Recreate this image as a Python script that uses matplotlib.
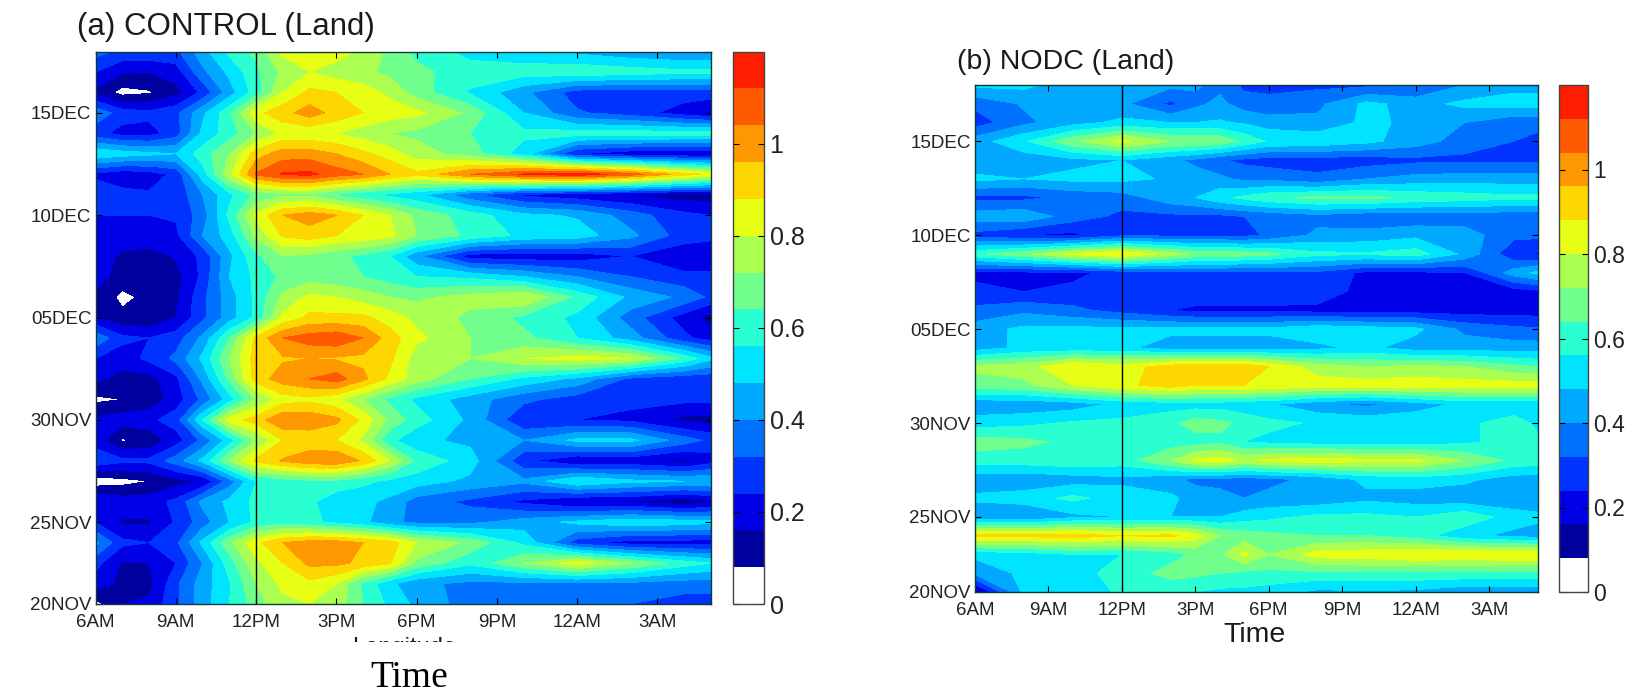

# diurnal contour panels, land only
import numpy as np
import matplotlib
matplotlib.use('Agg')
import matplotlib.pyplot as plt
from matplotlib.colors import ListedColormap, BoundaryNorm
from matplotlib.patches import Rectangle

plt.rcParams['font.family'] = ['Liberation Sans', 'DejaVu Sans']

days = list(range(1, 29))
hours_a = [6, 7, 8, 9, 10, 11, 12, 13, 14, 15, 16, 17, 18, 20, 22, 24, 26, 28, 29]
hours_b = [6, 8, 10, 12, 14, 15, 16, 17, 18, 20, 22, 24, 26, 28, 29]

# rows run from day 1 (bottom) to day 28 (top)
control = [
    [.05, .16, .18, .30, .44, .56, .68, .78, .80, .76, .64, .54, .46, .36, .34, .34, .32, .28, .28],
    [.20, .14, .13, .30, .44, .55, .72, .82, .86, .80, .62, .50, .42, .38, .38, .38, .38, .36, .36],
    [.27, .15, .16, .24, .40, .60, .78, .88, .98, .98, .94, .89, .70, .58, .72, .84, .72, .60, .56],
    [.42, .26, .24, .30, .50, .70, .86, .96, 1.0, 1.0, .96, .92, .80, .70, .54, .28, .20, .20, .20],
    [.24, .15, .15, .25, .36, .48, .58, .60, .58, .54, .50, .42, .38, .38, .44, .50, .54, .52, .50],
    [.24, .20, .20, .26, .42, .50, .58, .60, .58, .50, .50, .46, .36, .30, .22, .15, .15, .10, .14],
    [.03, .05, .08, .13, .17, .36, .56, .60, .62, .62, .58, .54, .52, .46, .42, .56, .50, .48, .48],
    [.30, .26, .26, .36, .50, .72, .90, .97, 1.02, 1.03, .95, .80, .62, .52, .26, .16, .18, .14, .20],
    [.20, .07, .10, .20, .34, .52, .72, .88, .90, .88, .78, .58, .50, .46, .40, .50, .50, .36, .30],
    [.18, .20, .22, .28, .56, .84, .92, 1.03, 1.02, .98, .86, .70, .60, .46, .25, .24, .22, .14, .13],
    [.06, .08, .10, .20, .34, .52, .72, .84, .86, .82, .72, .62, .54, .44, .34, .28, .26, .26, .26],
    [.18, .13, .13, .22, .42, .66, .92, 1.0, 1.04, 1.08, .98, .86, .76, .64, .54, .46, .30, .26, .26],
    [.24, .20, .26, .34, .50, .72, .92, .95, .96, .95, .94, .90, .76, .72, .80, .83, .80, .62, .50],
    [.38, .26, .24, .28, .42, .64, .90, 1.04, 1.08, 1.10, 1.04, .92, .82, .72, .66, .56, .44, .26, .20],
    [.16, .10, .09, .16, .30, .44, .58, .82, .90, .90, .90, .84, .78, .70, .62, .54, .36, .20, .13],
    [.14, .06, .10, .14, .30, .44, .58, .74, .82, .80, .76, .72, .70, .75, .80, .62, .46, .38, .30],
    [.20, .12, .10, .13, .26, .48, .58, .66, .68, .66, .64, .60, .56, .54, .48, .40, .32, .26, .26],
    [.22, .14, .12, .17, .26, .46, .62, .72, .70, .66, .62, .56, .42, .20, .19, .19, .24, .18, .18],
    [.24, .22, .22, .22, .40, .52, .74, .89, .92, .88, .86, .82, .72, .62, .54, .52, .42, .28, .26],
    [.24, .24, .24, .25, .36, .58, .82, .96, 1.0, .96, .88, .80, .70, .60, .50, .47, .36, .26, .24],
    [.30, .27, .25, .26, .40, .54, .66, .70, .70, .63, .58, .54, .50, .34, .22, .18, .15, .12, .12],
    [.22, .18, .20, .26, .52, .78, 1.05, 1.13, 1.14, 1.08, 1.04, .96, .90, 1.04, 1.13, 1.17, 1.08, .92, .86],
    [.55, .52, .50, .48, .60, .72, .92, 1.0, 1.0, .96, .90, .84, .76, .68, .52, .24, .18, .16, .16],
    [.27, .21, .21, .28, .50, .60, .72, .82, .82, .80, .76, .72, .70, .64, .58, .60, .60, .60, .60],
    [.38, .28, .26, .30, .46, .62, .86, .93, 1.0, .93, .88, .84, .82, .70, .48, .33, .28, .20, .16],
    [.14, .05, .07, .13, .26, .44, .60, .80, .90, .88, .84, .78, .68, .55, .42, .28, .28, .28, .28],
    [.24, .17, .16, .20, .38, .50, .62, .74, .80, .76, .74, .70, .66, .60, .60, .62, .60, .58, .58],
    [.35, .30, .30, .30, .45, .58, .66, .82, .84, .84, .78, .70, .62, .53, .50, .46, .42, .40, .40],
]

nodc = [
    [.12, .50, .52, .57, .56, .56, .54, .54, .52, .46, .47, .46, .42, .42, .42],
    [.42, .50, .54, .58, .68, .66, .64, .62, .62, .62, .62, .62, .62, .62, .62],
    [.50, .52, .56, .56, .60, .66, .70, .82, .72, .84, .85, .88, .87, .88, .88],
    [.90, .90, .92, .88, .90, .84, .72, .68, .66, .64, .64, .60, .50, .46, .44],
    [.40, .40, .46, .48, .48, .48, .48, .52, .54, .58, .58, .56, .62, .52, .50],
    [.50, .52, .58, .52, .50, .44, .42, .40, .42, .42, .46, .44, .42, .42, .42],
    [.42, .42, .44, .46, .42, .38, .38, .36, .38, .42, .50, .52, .50, .44, .44],
    [.60, .60, .62, .60, .72, .82, .84, .78, .82, .84, .82, .82, .72, .62, .60],
    [.68, .66, .62, .60, .60, .60, .62, .56, .54, .52, .52, .52, .54, .60, .58],
    [.52, .54, .57, .58, .62, .68, .66, .62, .58, .55, .54, .54, .54, .60, .54],
    [.42, .42, .44, .50, .52, .52, .52, .50, .49, .42, .38, .44, .50, .50, .50],
    [.68, .70, .80, .86, .92, .88, .88, .88, .86, .84, .84, .85, .84, .84, .84],
    [.74, .76, .88, .84, .92, .94, .94, .94, .88, .76, .72, .74, .72, .66, .64],
    [.44, .50, .50, .50, .44, .44, .44, .44, .44, .46, .50, .44, .44, .44, .44],
    [.44, .50, .50, .50, .50, .50, .50, .50, .50, .54, .52, .50, .38, .34, .33],
    [.34, .38, .34, .29, .24, .22, .22, .22, .22, .21, .20, .20, .20, .20, .20],
    [.26, .24, .26, .27, .30, .30, .30, .30, .30, .30, .20, .20, .20, .20, .22],
    [.22, .22, .22, .27, .30, .30, .30, .30, .30, .30, .22, .22, .24, .44, .50],
    [.62, .70, .82, .88, .76, .70, .70, .68, .66, .58, .57, .60, .46, .26, .23],
    [.29, .24, .22, .30, .30, .30, .30, .30, .33, .42, .43, .46, .44, .34, .34],
    [.44, .46, .36, .30, .30, .30, .30, .32, .34, .37, .34, .34, .35, .34, .34],
    [.30, .30, .34, .36, .45, .48, .54, .58, .62, .66, .66, .62, .60, .58, .58],
    [.50, .48, .50, .50, .47, .44, .42, .38, .38, .34, .40, .43, .44, .44, .44],
    [.42, .43, .46, .48, .42, .38, .33, .30, .28, .28, .28, .30, .30, .30, .30],
    [.44, .55, .70, .82, .72, .72, .70, .62, .55, .54, .50, .44, .36, .32, .30],
    [.28, .38, .45, .50, .48, .48, .49, .47, .44, .42, .50, .46, .40, .34, .34],
    [.34, .41, .44, .42, .30, .38, .42, .36, .34, .38, .50, .45, .50, .52, .52],
    [.50, .50, .44, .42, .42, .41, .38, .30, .30, .30, .30, .31, .40, .45, .45],
]

levels = [0, .08, .16, .24, .32, .40, .48, .56, .64, .72, .80, .88, .96, 1.04, 1.12, 1.2]
band_colors = ['#ffffff', '#00009f', '#0000e6', '#0033ff', '#0070ff', '#00a8ff', '#00e4ff',
               '#2affd2', '#70ff8c', '#aaff50', '#e6ff14', '#ffd700', '#ff9800', '#ff5a00', '#ff1e00']
time_ticks = [6, 9, 12, 15, 18, 21, 24, 27]
time_labels = ['6AM', '9AM', '12PM', '3PM', '6PM', '9PM', '12AM', '3AM']
date_ticks = [1, 5, 10, 15, 20, 25]
date_labels = ['20NOV', '25NOV', '30NOV', '05DEC', '10DEC', '15DEC']
cbar_ticks = [0, .2, .4, .6, .8, 1]
cbar_labels = ['0', '0.2', '0.4', '0.6', '0.8', '1']

W, H = 1628, 693
cmap = ListedColormap(band_colors)


def box(x0, y0, x1, y1):
    # pixel box to figure fraction
    return [x0 / W, 1 - y1 / H, (x1 - x0) / W, (y1 - y0) / H]


def panel(fig, rect, cbar_rect, hours, z, title, title_xy, title_size, cbar_size):
    ax = fig.add_axes(box(*rect))
    # each panel needs its own norm, a shared one resets the other colorbar
    norm = BoundaryNorm(levels, cmap.N)
    cf = ax.contourf(hours, days, np.array(z), levels=levels, cmap=cmap, norm=norm)
    ax.axvline(12, color='black', lw=1.0)
    ax.set_xlim(6, 29)
    ax.set_ylim(1, 28)
    ax.set_xticks(time_ticks, time_labels)
    ax.set_yticks(date_ticks, date_labels)
    ax.tick_params(direction='in', top=True, right=True, length=4, width=0.8,
                   labelsize=13.5, colors='black', labelcolor='#222222', pad=3)
    ax.tick_params(axis='x', pad=7.5)
    for s in ax.spines.values():
        s.set_linewidth(1.0)
        s.set_color('#103838')
    fig.text(title_xy[0] / W, 1 - title_xy[1] / H, title, fontsize=title_size, color='#1a1a1a', va='baseline')

    cax = fig.add_axes(box(*cbar_rect))
    cb = fig.colorbar(cf, cax=cax, ticks=cbar_ticks, spacing='proportional')
    cb.set_ticklabels(cbar_labels)
    cax.minorticks_off()
    cax.tick_params(direction='in', left=True, right=True, length=4, width=0.8,
                    labelsize=cbar_size, labelcolor='#222222', pad=4)
    cb.outline.set_linewidth(1.0)
    cb.outline.set_edgecolor('#444444')
    return ax


fig = plt.figure(figsize=(W / 100, H / 100), dpi=100)
panel(fig, (95.5, 51.5, 711, 604), (733, 51.5, 764, 604), hours_a, control,
      '(a) CONTROL (Land)', (77, 35), 22.5, 18)
panel(fig, (975, 85, 1538, 592), (1559, 85, 1588, 592), hours_b, nodc,
      '(b) NODC (Land)', (957, 69), 20.5, 16.5)

# leftover top of a cropped axis label under panel (a)
cut = fig.text(404 / W, 1 - 637 / H, 'Longitude', fontsize=17, ha='center', va='top', color='#1a1a1a')
cut.set_clip_path(Rectangle((300, H - 642), 220, 5, transform=None))
cut.set_clip_on(True)

fig.text(409 / W, 1 - 687 / H, 'Time', fontsize=27, family=['Liberation Serif', 'DejaVu Serif'],
         ha='center', va='baseline', color='black')
fig.text(1254 / W, 1 - 642 / H, 'Time', fontsize=20.5, ha='center', va='baseline', color='#1a1a1a')

fig.savefig('out.png', dpi=100)
